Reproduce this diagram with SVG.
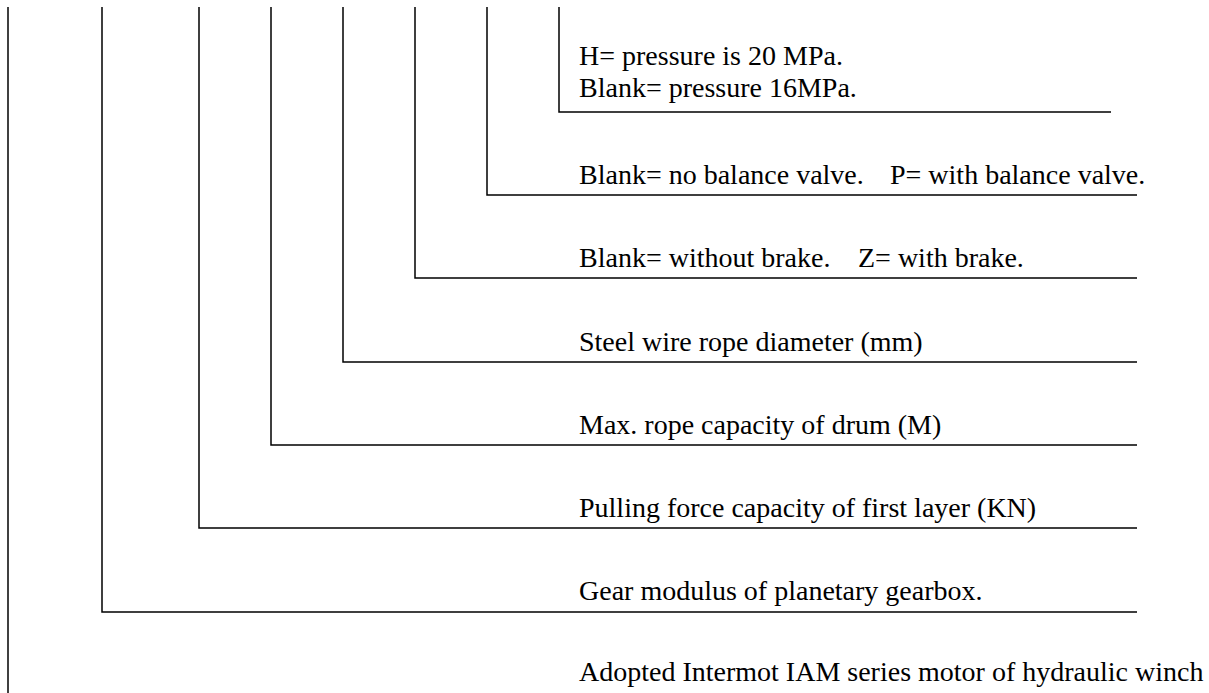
<svg xmlns="http://www.w3.org/2000/svg" width="1209" height="693" viewBox="0 0 1209 693">
<style>
.ln{stroke:#000;stroke-width:1.5;fill:none}
.t{font-family:"Liberation Serif","Times New Roman",serif;font-size:28px;fill:#000}
</style>
<rect width="1209" height="693" fill="#fff"/>
<g id="connectors">
<path class="ln" d="M8,7V693"/>
<path class="ln" d="M102,7V612H1137"/>
<path class="ln" d="M199,7V528H1137"/>
<path class="ln" d="M271,7V445H1137"/>
<path class="ln" d="M343,7V362H1137"/>
<path class="ln" d="M415,7V278H1137"/>
<path class="ln" d="M487,7V195H1137"/>
<path class="ln" d="M559,7V112H1111"/>
</g>
<g id="n-pressure"><text class="t" x="579" y="65">H= pressure is 20 MPa.</text><text class="t" x="579" y="97">Blank= pressure 16MPa.</text></g>
<g id="n-valve"><text class="t" x="579" y="184">Blank= no balance valve.</text><text class="t" x="890" y="184">P= with balance valve.</text></g>
<g id="n-brake"><text class="t" x="579" y="267">Blank= without brake.</text><text class="t" x="858" y="267">Z= with brake.</text></g>
<g id="n-rope"><text class="t" x="579" y="351">Steel wire rope diameter (mm)</text></g>
<g id="n-capacity"><text class="t" x="579" y="434">Max. rope capacity of drum (M)</text></g>
<g id="n-force"><text class="t" x="579" y="517">Pulling force capacity of first layer (KN)</text></g>
<g id="n-gear"><text class="t" x="579" y="600">Gear modulus of planetary gearbox.</text></g>
<g id="n-motor"><text class="t" x="579" y="681">Adopted Intermot IAM series motor of hydraulic winch</text></g>
</svg>
